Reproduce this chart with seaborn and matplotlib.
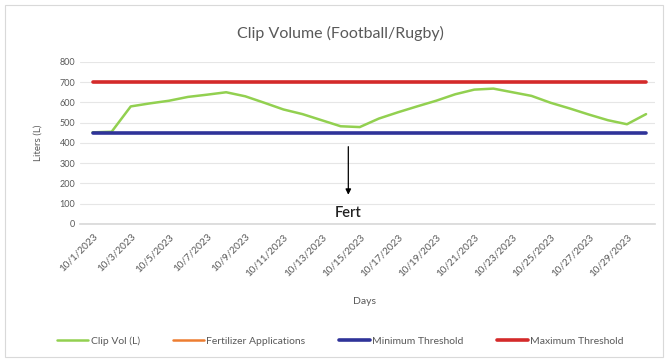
import pandas as pd
import numpy as np
import matplotlib.pyplot as plt
import seaborn as sns
from matplotlib.patches import Rectangle

# data
days = ['10/%d/2023' % d for d in range(1, 31)]
clip_vol = [452, 455, 580, 595, 608, 627, 638, 650, 630, 598,
            565, 542, 512, 482, 478, 520, 551, 580, 608, 640,
            663, 668, 650, 632, 598, 570, 540, 512, 492, 542]
min_threshold = [450] * 30
max_threshold = [700] * 30
fert_day = 13.4  # position of the Fert arrow (between 10/14 and 10/15)

df = pd.DataFrame({'day': range(len(days)), 'Clip Vol (L)': clip_vol,
                   'Minimum Threshold': min_threshold,
                   'Maximum Threshold': max_threshold})

sns.set_theme(style='white')
plt.rcParams['font.family'] = ['Lato', 'DejaVu Sans']
grey = '#595959'

fig = plt.figure(figsize=(6.68, 3.64), dpi=100)
ax = fig.add_axes([0.12, 0.385, 0.86, 0.445])

sns.lineplot(data=df, x='day', y='Clip Vol (L)', color='#92d050', lw=1.8,
             ax=ax, label='Clip Vol (L)')
ax.plot([], [], color='#ed7d31', lw=1.8, label='Fertilizer Applications')
sns.lineplot(data=df, x='day', y='Minimum Threshold', color='#2f3399', lw=2.6,
             ax=ax, label='Minimum Threshold')
sns.lineplot(data=df, x='day', y='Maximum Threshold', color='#d42a2a', lw=2.6,
             ax=ax, label='Maximum Threshold')

ax.set_ylim(0, 800)
ax.set_xlim(-0.65, 29.45)
ax.set_yticks(range(0, 801, 100))
ax.yaxis.grid(True, color='#e6e6e6', lw=0.8)
ax.set_xticks(range(0, 30, 2))
ax.set_xticklabels(days[::2], rotation=45, ha='right', rotation_mode='anchor',
                   fontsize=7.2, color=grey)
ax.tick_params(axis='y', labelsize=6.5, colors=grey, length=0)
ax.tick_params(axis='x', length=0, pad=6)
for s in ['top', 'right', 'left']:
    ax.spines[s].set_visible(False)
ax.spines['bottom'].set_color('#d9d9d9')

ax.set_xlabel('')
ax.set_ylabel('Liters (L)', fontsize=7, color=grey, labelpad=12)
fig.text(0.546, 0.173, 'Days', fontsize=7.5, color=grey, ha='center', va='center')
fig.text(0.51, 0.909, 'Clip Volume (Football/Rugby)', fontsize=11.5, color=grey,
         ha='center', va='center')

# fertilizer arrow
ax.annotate('', xy=(fert_day, 130), xytext=(fert_day, 395),
            arrowprops=dict(arrowstyle='-|>', color='black', lw=0.9,
                            mutation_scale=8))
ax.text(fert_day, 55, 'Fert', fontsize=10.5, fontweight='semibold',
        ha='center', va='center', color='#222222')

ax.legend(loc='center', bbox_to_anchor=(0.453, -0.725), ncol=4, frameon=False,
          fontsize=7.5, labelcolor=grey, handlelength=3.0, columnspacing=3.2,
          handletextpad=0.2)

fig.patches.append(Rectangle((0.008, 0.02), 0.985, 0.965, transform=fig.transFigure,
                             fill=False, edgecolor='#d9d9d9', lw=0.8))

fig.savefig('out.png', dpi=100)
